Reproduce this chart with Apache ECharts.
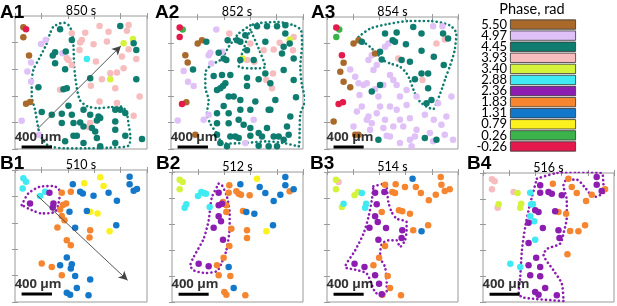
<!DOCTYPE html>
<html><head><meta charset="utf-8">
<script src="https://cdn.jsdelivr.net/npm/echarts@6/dist/echarts.min.js"></script>
<style>html,body{margin:0;padding:0;background:#fff}#c{width:617px;height:306px}</style>
</head><body><div id="c"></div>
<script>
// Phase legend
const phaseLabels = ['5.50','4.97','4.45','3.93','3.40','2.88','2.36','1.83','1.31','0.79','0.26','-0.26'];
const phaseKeys   = ['brown','lav','teal','pink','ygreen','cyan','purple','orange','blue','yellow','green','red'];
const phaseColors = ['#A8692B','#DFC1F7','#0E7C6F','#F7BDBE','#D6F33C','#3FEAF2','#8C1DB0','#F5852F','#1378C9','#FAF11E','#3BB34A','#E31A4B'];
const drawOrder = ['pink','lav','ygreen','yellow','cyan','orange','blue','brown','green','red','teal','purple'];

const panelNames = ['A1','A2','A3','B1','B2','B3','B4'];
const panelTimes = ['850 s','852 s','854 s','510 s','512 s','514 s','516 s'];

// readings in picture units; frame = [left,right,top,bottom] of the box in the same units
const frameA1 = [45,440,48,448], frameA2 = [62,458,50,448], frameA3 = [80,475,50,448];
const frameB1 = [45,440,60,455], frameB2 = [65,458,65,455], frameB3 = [65,460,65,455], frameB4 = [68,462,68,455];

const ptsA1 = {
 brown:[[70,82],[70,112],[87,167],[78,312],[90,307]],
 red:[[78,88]],
 lav:[[123,132],[137,120],[187,160],[93,188],[82,215],[93,245],[65,363],[117,405]],
 teal:[[180,88],[215,120],[165,157],[158,167],[197,155],[165,190],[195,208],[115,262],[190,268],[200,265],[270,235],[205,318],[125,337],[155,345],[185,342],[215,345],[250,330],[270,345],[295,350],[300,355],[290,362],[240,368],[185,370],[220,370],[250,380],[275,385],[285,395],[220,408],[230,408],[195,425],[290,415],[345,330],[360,330],[375,340],[345,365],[345,390],[345,430],[375,408],[300,440],[250,430],[360,78],[400,130],[408,150],[408,238],[425,418]],
 pink:[[215,100],[245,120],[255,98],[240,128],[280,133],[298,78],[325,95],[320,125],[385,75],[380,92],[365,170],[385,148],[408,177],[370,205],[350,218],[330,220],[305,238],[272,258],[345,265],[418,290],[298,305],[200,175],[205,180],[180,270],[350,310],[400,348],[270,370],[265,382],[215,195],[287,185],[238,150]],
 ygreen:[[370,130],[398,117],[330,238]],
 cyan:[[260,177]]
};
const ptsA2 = {
 red:[[88,82],[88,110],[95,312]],
 green:[[97,88]],
 brown:[[142,130],[155,120],[105,165],[112,187],[108,307],[135,405]],
 lav:[[198,88],[180,158],[175,165],[215,155],[183,190],[100,213],[113,245],[130,258],[82,362],[175,345],[160,360],[310,360],[285,430]],
 teal:[[168,125],[205,158],[220,175],[228,180],[128,208],[232,120],[260,120],[270,125],[285,105],[320,78],[350,78],[380,78],[405,75],[405,100],[418,130],[395,160],[430,175],[400,210],[430,240],[437,292],[190,228],[215,225],[200,270],[210,265],[218,258],[225,250],[240,225],[290,233],[290,258],[325,238],[345,220],[360,250],[235,290],[250,290],[270,300],[315,305],[375,300],[355,330],[220,318],[270,330],[300,330],[360,330],[200,340],[235,340],[265,360],[200,370],[235,370],[280,375],[300,385],[350,385],[420,350],[410,380],[240,410],[255,410],[265,415],[300,408],[335,410],[385,410],[415,405],[400,420],[210,430],[230,440],[325,438],[355,440],[380,440],[200,405],[270,180],[310,180],[345,125],[290,150],[400,140],[370,410],[325,400]],
 pink:[[237,100],[300,130],[312,185],[290,180],[340,150],[370,148],[388,128],[430,110],[428,150],[368,220],[348,240],[365,265]],
 ygreen:[[418,118],[277,175]]
};
const ptsA3 = {
 red:[[108,82],[125,165],[115,312],[128,307]],
 green:[[117,88],[108,110]],
 brown:[[160,130],[175,120],[225,160],[130,188],[120,215],[130,245],[150,262],[100,365],[175,405],[165,405]],
 teal:[[185,125],[255,100],[290,97],[340,80],[365,100],[430,100],[445,115],[278,120],[285,125],[318,132],[240,155],[245,178],[305,180],[330,185],[365,152],[402,170],[432,195],[365,220],[385,220],[345,238],[385,265],[380,310],[395,300],[215,275],[240,255],[235,420],[375,415],[410,420]],
 pink:[[410,130],[435,118],[295,175],[368,240]],
 lav:[[150,208],[165,230],[230,195],[225,268],[250,255],[270,225],[280,240],[290,255],[300,290],[320,270],[350,290],[270,320],[205,180],[175,250],[178,285],[185,320],[205,350],[240,320],[230,340],[290,330],[255,360],[300,360],[330,355],[310,380],[280,380],[350,390],[390,400],[200,360],[215,370],[250,385],[260,408],[270,410],[210,390],[170,335],[160,380],[235,290],[320,315],[375,345],[415,310],[440,350],[455,290],[402,360],[425,375],[435,405],[460,420],[330,420],[300,430],[335,440],[345,410],[400,425],[265,130],[215,165],[220,210],[255,140],[400,78],[428,78],[200,250],[190,255]]
};
const ptsB1 = {
 cyan:[[70,85],[78,95],[68,115],[135,125],[120,138]],
 purple:[[148,128],[90,160],[160,160],[158,172]],
 orange:[[185,128],[212,125],[198,160],[188,165],[180,178],[185,198],[193,210],[172,232],[270,240],[268,262],[200,270],[212,285],[125,340],[155,350],[185,375]],
 blue:[[218,103],[240,125],[248,130],[280,137],[325,128],[350,152],[388,80],[388,103],[400,122],[410,117],[208,185],[260,183],[225,233],[348,225],[200,322],[215,342],[180,345],[212,355],[225,377],[270,388],[230,413],[200,427],[210,433],[265,435]],
 yellow:[[252,100],[300,82],[310,108],[270,185],[292,190],[328,243]]
};
const ptsB2 = {
 ygreen:[[88,88],[97,95],[88,117]],
 yellow:[[320,85],[348,243]],
 cyan:[[143,137],[153,125],[160,128],[167,130],[108,162],[103,172],[178,170]],
 purple:[[205,127],[205,165],[215,160],[205,198],[212,213],[190,232],[218,268],[145,340],[175,348]],
 orange:[[237,105],[235,127],[258,123],[265,130],[272,133],[298,135],[218,155],[228,165],[228,185],[278,182],[243,235],[290,240],[290,263],[237,287],[220,322],[200,345],[205,375],[240,377],[222,425],[228,433],[285,435],[418,123]],
 blue:[[270,102],[328,110],[345,128],[370,152],[390,133],[405,80],[405,105],[430,117],[288,185],[312,190],[368,225],[235,350],[250,413]]
};
const ptsB3 = {
 ygreen:[[92,88],[92,117],[148,135],[158,125],[110,170]],
 pink:[[100,95]],
 cyan:[[170,128],[115,160],[183,160],[180,172]],
 purple:[[210,127],[238,125],[215,162],[210,198],[218,215],[193,232],[243,233],[292,240],[290,263],[220,268],[148,340],[178,350],[210,375],[222,400],[230,432]],
 orange:[[240,103],[272,102],[300,110],[333,110],[348,128],[372,150],[393,133],[408,80],[410,103],[420,122],[435,117],[262,125],[270,128],[230,185],[282,180],[292,183],[315,190],[325,240],[370,225],[240,287],[222,322],[205,345],[248,377],[255,413],[232,433],[288,435]],
 blue:[[323,85],[350,243]]
};
const ptsB4 = {
 pink:[[95,87],[103,93],[95,117],[160,125],[112,172]],
 ygreen:[[115,162],[172,128],[183,160],[180,172]],
 cyan:[[210,127],[213,162],[218,162],[210,198],[222,213],[225,268],[150,340],[180,350]],
 purple:[[240,105],[240,127],[265,125],[275,130],[305,135],[225,180],[235,185],[285,183],[248,233],[295,240],[298,263],[205,278],[228,322],[205,345],[240,350],[210,375],[240,378],[255,413],[225,425],[235,433],[290,435],[410,80],[410,103],[425,122],[205,217]],
 orange:[[278,100],[325,85],[335,110],[350,128],[378,152],[395,133],[435,117],[295,185],[318,190],[330,242],[355,243],[375,225],[322,312]]
};

// dotted wave-front outlines
const outA1 = [[180,70],[160,80],[150,100],[138,135],[118,175],[100,210],[95,250],[95,290],[105,330],[112,370],[120,405],[145,438],[200,446],[260,446],[330,444],[385,438],[390,410],[385,375],[378,335],[362,320],[330,322],[295,325],[262,320],[240,302],[230,265],[222,200],[220,140],[215,95],[205,75],[190,68],[180,70]];
const outA2a = [[300,75],[265,100],[235,140],[212,178],[182,195],[165,218],[165,262],[175,302],[170,340],[180,372],[200,402],[218,432],[282,430],[350,425],[400,430],[445,440],[448,390],[450,342],[465,300],[455,258],[450,200],[455,132],[452,90],[430,75],[380,65],[330,68],[300,75]];
const outA2b = [[300,88],[282,140],[265,198],[305,205],[345,200],[325,145],[300,88]];
const outA3 = [[175,110],[210,85],[260,72],[330,62],[390,62],[450,75],[470,100],[465,150],[450,200],[438,232],[428,262],[410,310],[400,328],[380,320],[360,305],[345,280],[330,240],[320,220],[300,200],[270,190],[250,180],[230,160],[210,140],[190,125],[175,110]];
const outB1 = [[65,165],[85,130],[120,110],[160,108],[180,125],[175,160],[165,185],[125,190],[95,180],[65,165]];
const outB2 = [[205,100],[215,105],[230,140],[238,190],[238,230],[228,300],[215,335],[200,362],[165,368],[130,360],[120,345],[130,320],[160,265],[175,210],[180,170],[185,140],[205,100]];
const outB3 = [[205,108],[240,100],[250,155],[260,185],[275,205],[305,215],[305,240],[300,270],[285,290],[275,270],[250,270],[230,282],[225,320],[240,350],[245,400],[245,425],[230,435],[210,425],[185,370],[150,358],[120,350],[150,300],[175,250],[190,200],[200,150],[205,108]];
const outB4 = [[230,85],[290,68],[350,65],[425,68],[430,100],[432,125],[402,140],[375,112],[350,88],[320,88],[310,105],[320,150],[320,200],[310,250],[300,280],[262,295],[250,312],[280,360],[305,400],[310,452],[190,442],[175,430],[180,380],[185,300],[195,230],[205,180],[215,140],[230,85]];

// propagation arrows
const arrowA1 = [[112,388],[362,138]];
const arrowB1 = [[110,135],[382,390]];

const frames = [frameA1,frameA2,frameA3,frameB1,frameB2,frameB3,frameB4];
const pts = [ptsA1,ptsA2,ptsA3,ptsB1,ptsB2,ptsB3,ptsB4];
const outlines = [[outA1],[outA2a,outA2b],[outA3],[outB1],[outB2],[outB3],[outB4]];
const outlineColor = ['#0E7C6F','#0E7C6F','#0E7C6F','#8C1DB0','#8C1DB0','#8C1DB0','#8C1DB0'];
const arrows = [arrowA1,null,null,arrowB1,null,null,null];

// layout (pixels)
const grids = [
 {left:15,top:16,width:132,height:133},
 {left:171,top:17,width:132,height:132},
 {left:327,top:17,width:131,height:132},
 {left:15,top:170,width:132,height:132},
 {left:172,top:172,width:131,height:130},
 {left:327,top:172,width:131,height:130},
 {left:483,top:173,width:131,height:129}
];
const labelPos = [[0,3],[155,3],[311,3],[0,154],[156,154],[310,154],[467,154]];

function conv(f, p){ return [(p[0]-f[0])/(f[1]-f[0])*100, (p[1]-f[2])/(f[3]-f[2])*100]; }
const colorOf = k => phaseColors[phaseKeys.indexOf(k)];

const gridOpt=[], xAxes=[], yAxes=[], series=[], titles=[];
const axCol='#9a9a9a';
grids.forEach((g,i)=>{
  gridOpt.push(Object.assign({show:true,borderColor:axCol,borderWidth:1,backgroundColor:'#fff'},g));
  const base = {gridIndex:i,type:'value',min:0,max:100,interval:20,
    axisLine:{show:false},axisLabel:{show:false},splitLine:{show:false},
    axisTick:{show:true,inside:true,length:3,lineStyle:{color:axCol,width:1}}};
  xAxes.push(Object.assign({position:'bottom'},base));
  xAxes.push(Object.assign({position:'top'},base));
  yAxes.push(Object.assign({position:'left',inverse:true},base));
  yAxes.push(Object.assign({position:'right',inverse:true},base));
  const xi=2*i, yi=2*i;
  outlines[i].forEach(o=>{
    series.push({type:'line',xAxisIndex:xi,yAxisIndex:yi,data:o.map(p=>conv(frames[i],p)),
      symbol:'none',smooth:0.25,silent:true,z:3,
      lineStyle:{color:outlineColor[i],width:2.6,type:[0.1,4.2],cap:'round'}});
  });
  drawOrder.forEach(k=>{
    if(!pts[i][k]) return;
    series.push({type:'scatter',xAxisIndex:xi,yAxisIndex:yi,symbolSize:6.5,z:4,
      itemStyle:{color:colorOf(k),opacity:1},data:pts[i][k].map(p=>conv(frames[i],p))});
  });
  const by = i<3 ? 98.5 : 94;
  const sb = {type:'line',xAxisIndex:xi,yAxisIndex:yi,symbol:'none',silent:true,z:7,
    lineStyle:{color:'#000',width:3},data:[[5,by],[28,by]]};
  if(arrows[i]){
    const a = arrows[i].map(p=>conv(frames[i],p));
    sb.markLine = {silent:true,symbol:['none','arrow'],symbolSize:[7,9],animation:false,
      lineStyle:{color:'#444',width:0.9,type:'solid'},label:{show:false},
      data:[[{coord:a[0]},{coord:a[1]}]]};
  }
  series.push(sb);
  series.push({type:'scatter',xAxisIndex:xi,yAxisIndex:yi,symbolSize:0,silent:true,z:8,
    data:[[17.5,by-7.5]],label:{show:true,position:'inside',formatter:'400 µm',
      color:'#000',fontSize:13,fontWeight:'bold',fontFamily:'Noto Sans'}});
  titles.push({text:panelNames[i],left:labelPos[i][0],top:labelPos[i][1],padding:0,
    textStyle:{fontSize:19,fontWeight:'bold',color:'#000',fontFamily:'Liberation Sans'}});
  titles.push({text:panelTimes[i],left:g.left+g.width/2,top:g.top-12,padding:0,textAlign:'center',
    textStyle:{fontSize:12.5,fontWeight:'normal',color:'#000',fontFamily:'Lato'}});
});

// colour legend as a bar chart
const li = grids.length;
gridOpt.push({left:510,top:19,width:66,height:133});
xAxes.push({gridIndex:li,type:'value',min:0,max:1,show:false});
yAxes.push({gridIndex:li,type:'category',inverse:true,data:phaseLabels,
  axisLine:{show:false},axisTick:{show:false},
  axisLabel:{interval:0,color:'#000',fontSize:13,fontFamily:'Lato',margin:3}});
series.push({type:'bar',xAxisIndex:xAxes.length-1,yAxisIndex:yAxes.length-1,barCategoryGap:'8%',silent:true,
  data:phaseColors.map(c=>({value:1,itemStyle:{color:c,borderColor:'#333',borderWidth:0.8}}))});
titles.push({text:'Phase, rad',left:532,top:2,padding:0,textAlign:'center',
  textStyle:{fontSize:14.5,fontWeight:'normal',color:'#000',fontFamily:'Lato'}});

const chart = echarts.init(document.getElementById('c'),null,{renderer:'canvas'});
chart.setOption({animation:false,backgroundColor:'#fff',title:titles,grid:gridOpt,xAxis:xAxes,yAxis:yAxes,series:series});
</script></body></html>
